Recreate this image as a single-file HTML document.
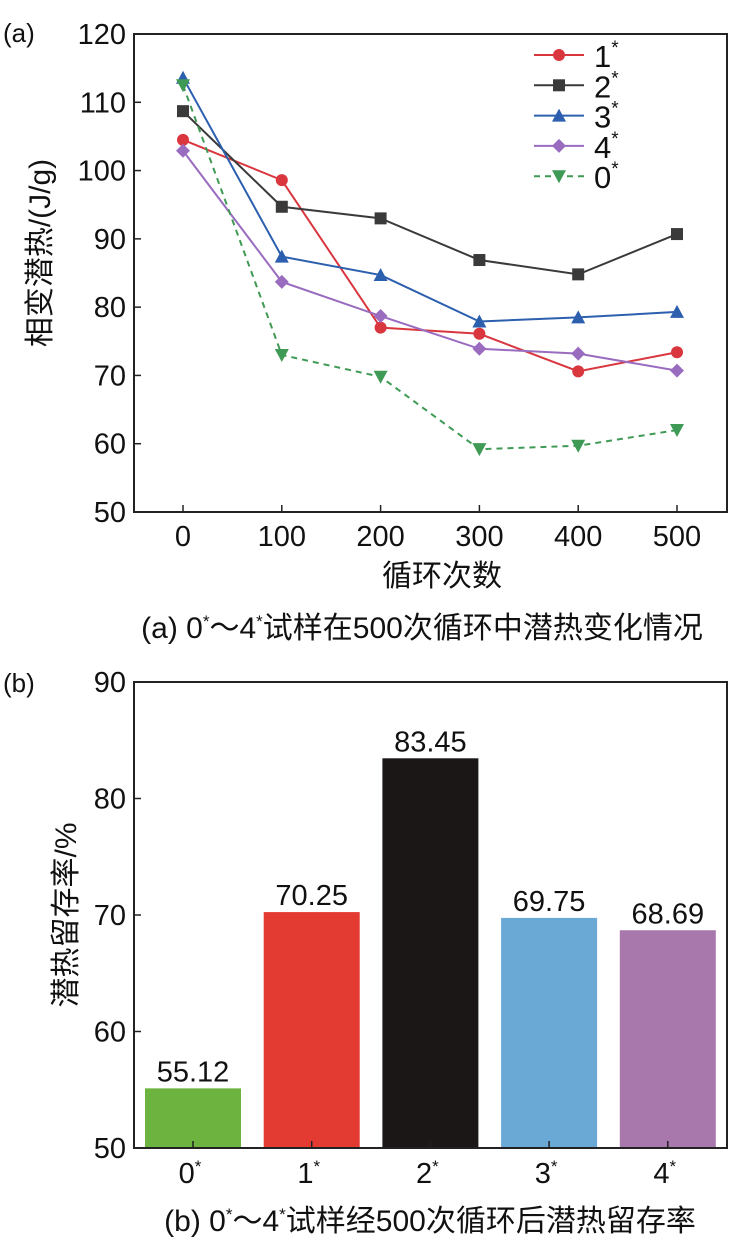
<!DOCTYPE html>
<html><head><meta charset="utf-8"><style>
body{margin:0;background:#fff;width:750px;height:1238px;overflow:hidden}
svg text{font-family:"Liberation Sans","Noto Sans CJK SC",sans-serif;fill:#111}
</style></head><body>
<svg id="s" width="750" height="1238" xmlns="http://www.w3.org/2000/svg">
<text x="3" y="42" font-size="26">(a)</text>
<rect x="134" y="34" width="593" height="478" fill="none" stroke="#222" stroke-width="2"/>
<g id="ga"></g>
<text transform="translate(50,253) rotate(-90)" text-anchor="middle" font-size="30">相变潜热/(J/g)</text>
<text x="442" y="586" text-anchor="middle" font-size="30">循环次数</text>
<text x="422" y="638" text-anchor="middle" font-size="30">(a) 0<tspan font-size="17" dy="-11">*</tspan><tspan dy="11">～4</tspan><tspan font-size="17" dy="-11">*</tspan><tspan dy="11">试样在500次循环中潜热变化情况</tspan></text>
<text x="3" y="692" font-size="26">(b)</text>
<g id="gb"></g>
<rect x="134" y="682" width="593" height="466" fill="none" stroke="#222" stroke-width="2"/>
<text transform="translate(76,915) rotate(-90)" text-anchor="middle" font-size="30">潜热留存率/%</text>
<text x="430" y="1231" text-anchor="middle" font-size="30">(b) 0<tspan font-size="17" dy="-11">*</tspan><tspan dy="11">～4</tspan><tspan font-size="17" dy="-11">*</tspan><tspan dy="11">试样经500次循环后潜热留存率</tspan></text>
</svg>
<script>
const cycles=[0,100,200,300,400,500];
const yTicksA=[50,60,70,80,90,100,110,120];
const s1=[104.5,98.6,77,76.1,70.6,73.4];
const s2=[108.7,94.7,93,86.9,84.8,90.7];
const s3=[113.6,87.4,84.7,77.9,78.5,79.3];
const s4=[102.9,83.7,78.7,73.9,73.2,70.7];
const s0=[112.5,73,69.8,59.2,59.7,62];
const barCats=["0","1","2","3","4"];
const barVals=[55.12,70.25,83.45,69.75,68.69];
const barLabels=["55.12","70.25","83.45","69.75","68.69"];
const yTicksB=[50,60,70,80,90];

const NS="http://www.w3.org/2000/svg";
function mk(t,a,p){const e=document.createElementNS(NS,t);for(const k in a)e.setAttribute(k,a[k]);p.appendChild(e);return e;}
const xa=v=>183+(v/500)*494, ya=v=>512-(v-50)/70*478;
const ga=document.getElementById('ga');
yTicksA.forEach(t=>{const l=mk('line',{x1:134,x2:141,y1:ya(t),y2:ya(t),stroke:'#222','stroke-width':1.5},ga);


const tx=mk('text',{x:126,y:ya(t)+10,'text-anchor':'end','font-size':29},ga);tx.textContent=t;

});
cycles.forEach(c=>{const l=mk('line',{x1:xa(c),x2:xa(c),y1:512,y2:505,stroke:'#222','stroke-width':1.5},ga);


const tx=mk('text',{x:xa(c),y:546,'text-anchor':'middle','font-size':29},ga);tx.textContent=c;

});
function marker(shape,x,y,c,p){
 if(shape==='circle')return mk('circle',{cx:x,cy:y,r:6,fill:c},p);
 if(shape==='square')return mk('rect',{x:x-6,y:y-6,width:12,height:12,fill:c},p);
 if(shape==='tri')return mk('polygon',{points:`${x},${y-7} ${x+7},${y+6} ${x-7},${y+6}`,fill:c},p);
 if(shape==='diamond')return mk('polygon',{points:`${x},${y-7} ${x+7},${y} ${x},${y+7} ${x-7},${y}`,fill:c},p);
 return mk('polygon',{points:`${x-7},${y-6} ${x+7},${y-6} ${x},${y+7}`,fill:c},p);
}
const series=[[s1,'#d9363e','circle','1',''],[s2,'#3a3a3a','square','2',''],[s3,'#2c5fae','tri','3',''],[s4,'#9a6cc0','diamond','4',''],[s0,'#3f9a55','dtri','0','6,5']];
series.forEach((sr,i)=>{const [d,c,sh,name,dash]=sr;
 const pl=mk('polyline',{points:d.map((v,j)=>xa(cycles[j])+','+ya(v)).join(' '),fill:'none',stroke:c,'stroke-width':2,'stroke-dasharray':dash},ga);
 
 
 d.forEach((v,j)=>{const m=marker(sh,xa(cycles[j]),ya(v),c,ga);
  
  });
 const ly=55+i*30.3;
 const ll=mk('line',{x1:534,x2:584,y1:ly,y2:ly,stroke:c,'stroke-width':2,'stroke-dasharray':dash},ga);
 
 
 marker(sh,559,ly,c,ga);
 const lt=mk('text',{x:594,y:ly+12,'font-size':31},ga);lt.innerHTML=name+'<tspan font-size="19" dy="-13">*</tspan>';
 
 
});
const yb=v=>1148-(v-50)/40*466, xb=i=>193+i*118.7;
const gb=document.getElementById('gb');
const colors=['#6db33f','#e33a31','#1a1716','#6aa8d6','#a877ab'];
barVals.forEach((v,i)=>{const r=mk('rect',{x:xb(i)-48,y:yb(v),width:96,height:1148-yb(v),fill:colors[i]},gb);
 
 
 const t=mk('text',{x:xb(i),y:yb(v)-7,'text-anchor':'middle','font-size':29},gb);t.textContent=barLabels[i];
 
 
 const tk=mk('line',{x1:xb(i),x2:xb(i),y1:1148,y2:1141,stroke:'#222','stroke-width':1.5},gb);
 
 
 const xl=mk('text',{x:xb(i)-3,y:1183,'text-anchor':'middle','font-size':29},gb);xl.innerHTML=barCats[i]+'<tspan font-size="17" dy="-11">*</tspan>';
 
 });
yTicksB.forEach(t=>{const l=mk('line',{x1:134,x2:141,y1:yb(t),y2:yb(t),stroke:'#222','stroke-width':1.5},gb);
 
 
 const tx=mk('text',{x:126,y:yb(t)+10,'text-anchor':'end','font-size':29},gb);tx.textContent=t;
 
 });
</script>
</body></html>
